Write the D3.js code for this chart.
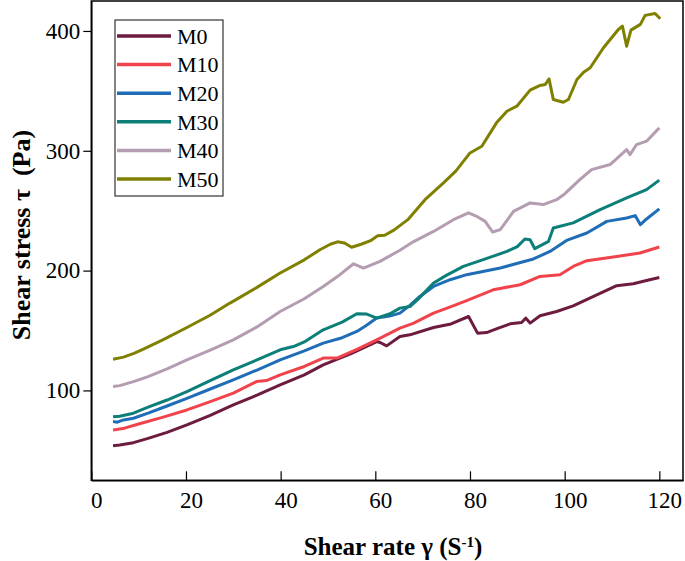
<!DOCTYPE html>
<html>
<head>
<meta charset="utf-8">
<script src="https://cdn.jsdelivr.net/npm/d3@7"></script>
<style>
  html, body { margin: 0; padding: 0; background: #fff; }
  svg { display: block; }
  text { font-family: "Liberation Serif", "Times New Roman", serif; }
</style>
</head>
<body>
<svg id="chart" width="685" height="561"></svg>
<script>
// ---- Data ----
const seriesNames = ["M0", "M10", "M20", "M30", "M40", "M50"];
const seriesColors = ["#6d1b3e", "#f0434c", "#1f6db6", "#0b7f78", "#b49db1", "#808000"];

const xM0 = [4.6, 6, 8.9, 12, 16, 20.2, 25, 30, 35, 39.9, 45, 49, 55, 60.3, 61, 62.4, 65.2, 67.3, 72.3, 76, 79.7, 81.6, 83.5, 86, 88.5, 90.9, 91.8, 92.7, 94.8, 98.3, 101.8, 106.1, 111, 114.5, 117.3, 120];
const yM0 = [53.9, 54.5, 56.4, 60, 65, 71.2, 79, 87.9, 96, 104.6, 113, 121.3, 131, 140.8, 140, 137.2, 145, 146.4, 152.5, 155.5, 161.7, 147.8, 148.3, 152, 155.6, 156.7, 160.3, 156.2, 162.3, 165.9, 170.6, 178.4, 187.4, 189, 191.8, 194.3];

const xM10 = [4.6, 7, 10, 15, 20.2, 25, 30, 34.9, 37, 39.9, 45, 49, 51.9, 56, 60.3, 65.2, 68, 72.3, 76, 79.3, 84.9, 90.6, 94.8, 99, 101.8, 104.7, 111, 115.9, 120];
const yM10 = [67, 68.5, 72, 77.5, 83.7, 90.5, 97.7, 107.4, 108.2, 113, 120, 127, 127, 134, 142.2, 152, 156, 164.5, 170, 175, 184, 188.2, 195.1, 196.6, 203.5, 208.3, 211.8, 214.7, 219.7];

const xM20 = [4.6, 5.5, 6.8, 8.9, 12, 16, 20.2, 25, 30, 35, 39.9, 45, 49, 53, 56.1, 58, 60.3, 63, 65.2, 67.3, 69.4, 72.3, 75.8, 79.3, 86.4, 93.4, 96.9, 100.4, 104.7, 108.9, 113.1, 114.9, 116, 117.3, 120];
const yM20 = [74, 73.5, 75.4, 76.8, 81, 87, 93.4, 101, 108.8, 117, 125.5, 133, 139.5, 144, 149.2, 154, 160.4, 162, 164.5, 171, 178.4, 186.8, 192.4, 196.6, 202.2, 209.7, 216, 225.2, 231.4, 241.1, 243.9, 245.9, 238.3, 243.1, 251.5];

const xM30 = [4.6, 6, 8.9, 12, 16, 20.2, 25, 30, 35, 39.9, 42.7, 45, 49, 53, 56.1, 58.2, 60.3, 63.1, 65.2, 67.3, 69, 72.3, 75, 78.6, 82.8, 87.8, 90, 91.6, 92.7, 93.7, 96.6, 97.6, 101.8, 107.5, 113.1, 117.3, 120];
const yM30 = [78.1, 78.5, 81, 86, 92, 99, 108, 117.2, 125.5, 133.9, 136.6, 140.5, 150.6, 157, 164, 163.7, 160.4, 164, 168.7, 170, 176, 189.6, 196, 203.5, 209.1, 216, 220, 226.4, 225.8, 218.3, 224.4, 235.6, 239.8, 250.9, 260.6, 267.6, 275.5];

const xM40 = [4.6, 6, 8.9, 12, 16, 20.2, 25, 30, 35, 39.9, 45, 49, 52, 55.4, 57.5, 61, 65.2, 68, 72.3, 76.5, 79.7, 81.4, 83.2, 84.8, 86.4, 89.2, 92.7, 95.5, 98.3, 100, 103.2, 105.7, 109.6, 113.1, 113.8, 115.2, 117.3, 120];
const yM40 = [103.2, 104, 107.4, 111.5, 118, 125.5, 133.5, 142.2, 153, 165.9, 176.5, 186.8, 195, 205.7, 202.1, 207.7, 217, 224, 232.7, 242.5, 248.1, 245.3, 241.1, 232.2, 234.2, 249.5, 256.5, 255.1, 259.2, 264, 276, 284.3, 288.5, 301, 296.8, 305.2, 308, 319.1];

const xM50 = [4.6, 6.8, 9, 11, 15, 20.2, 25, 29.3, 35, 39.9, 45, 48.3, 50.5, 52, 53.5, 55, 57, 59, 60.5, 62, 64, 67, 70.5, 74.4, 77, 80, 82.5, 85.6, 87.8, 89.9, 92.7, 94.8, 95.9, 96.7, 97.6, 99.7, 100.8, 102.6, 104, 105.4, 108.2, 111.3, 112.2, 113.1, 114, 116, 117, 119.1, 120.2];
const yM50 = [126.1, 127.8, 131, 134.5, 142, 152.5, 162.5, 172.9, 186, 198, 209, 217.4, 222, 224, 223, 219.5, 222, 225, 229, 229.5, 234, 243, 259.2, 273.2, 283, 298.2, 303.8, 323.3, 333, 337.2, 350.6, 354.5, 355.3, 360, 342.8, 340.5, 342.8, 359.5, 365.6, 369.3, 386, 401, 404, 387.3, 400.7, 405.5, 413, 414.6, 410.2];

const xTicks = [0, 20, 40, 60, 80, 100, 120];
const yTicks = [100, 200, 300, 400];
const xDomain = [0, 125];
const yDomain = [25, 425];

const xs = [xM0, xM10, xM20, xM30, xM40, xM50];
const ys = [yM0, yM10, yM20, yM30, yM40, yM50];

// ---- Layout ----
const svg = d3.select("#chart");
const plotLeft = 91.3, plotRight = 683, plotTop = 1, plotBottom = 480.3;

const x = d3.scaleLinear().domain(xDomain).range([plotLeft, plotRight]);
const y = d3.scaleLinear().domain(yDomain).range([plotBottom, plotTop]);

// Lines
const line = d3.line().x(d => x(d[0])).y(d => y(d[1]));
seriesNames.forEach((name, i) => {
  const pts = xs[i].map((v, j) => [v, ys[i][j]]);
  svg.append("path")
    .datum(pts)
    .attr("fill", "none")
    .attr("stroke", seriesColors[i])
    .attr("stroke-width", 3)
    .attr("stroke-linejoin", "round")
    .attr("d", line);
});

// Frame
svg.append("rect")
  .attr("x", plotLeft).attr("y", plotTop)
  .attr("width", plotRight - plotLeft).attr("height", plotBottom - plotTop)
  .attr("fill", "none").attr("stroke", "#000").attr("stroke-width", 1.5);

// X axis (ticks inward)
const xAxis = svg.append("g")
  .attr("transform", `translate(0,${plotBottom})`)
  .call(d3.axisBottom(x).tickValues(xTicks).tickSizeInner(-9).tickSizeOuter(0).tickFormat(d3.format("d")));
xAxis.select(".domain").attr("stroke", "#000").attr("stroke-width", 1.5);
xAxis.selectAll(".tick line").attr("stroke", "#000").attr("stroke-width", 1.2);
xAxis.selectAll(".tick text")
  .attr("y", 27.5).attr("dy", 0).attr("dx", 5)
  .attr("fill", "#000")
  .style("font-size", "23px")
  .style("font-family", "'Liberation Serif', serif");

// Y axis (ticks outward)
const yAxis = svg.append("g")
  .attr("transform", `translate(${plotLeft},0)`)
  .call(d3.axisLeft(y).tickValues(yTicks).tickSizeInner(8).tickSizeOuter(0).tickPadding(3).tickFormat(d3.format("d")));
yAxis.select(".domain").attr("stroke", "#000").attr("stroke-width", 1.5);
yAxis.selectAll(".tick line").attr("stroke", "#000").attr("stroke-width", 1.2);
yAxis.selectAll(".tick text")
  .attr("fill", "#000")
  .style("font-size", "23px")
  .style("font-family", "'Liberation Serif', serif");

// Axis titles
const xt = svg.append("text")
  .attr("x", 393).attr("y", 555)
  .attr("text-anchor", "middle")
  .style("font-size", "25px").style("font-weight", "bold");
xt.append("tspan").text("Shear rate γ (S");
xt.append("tspan").attr("baseline-shift", "super").style("font-size", "15px").text("-1");
xt.append("tspan").text(")");

svg.append("text")
  .attr("transform", "translate(30,235) rotate(-90)")
  .attr("text-anchor", "middle")
  .style("font-size", "26px").style("font-weight", "bold")
  .style("white-space", "pre")
  .attr("xml:space", "preserve")
  .text("Shear stress τ  (Pa)");

// Legend
const lg = svg.append("g");
lg.append("rect")
  .attr("x", 115).attr("y", 20).attr("width", 108).attr("height", 176)
  .attr("fill", "#fff").attr("stroke", "#333").attr("stroke-width", 1.2);
seriesNames.forEach((name, i) => {
  const cy = 36 + i * 28.6;
  lg.append("line")
    .attr("x1", 117).attr("x2", 171).attr("y1", cy).attr("y2", cy)
    .attr("stroke", seriesColors[i]).attr("stroke-width", 3.5);
  lg.append("text")
    .attr("x", 177).attr("y", cy).attr("dy", "0.35em")
    .style("font-size", "22px").attr("fill", "#000")
    .text(name);
});
</script>
</body>
</html>
